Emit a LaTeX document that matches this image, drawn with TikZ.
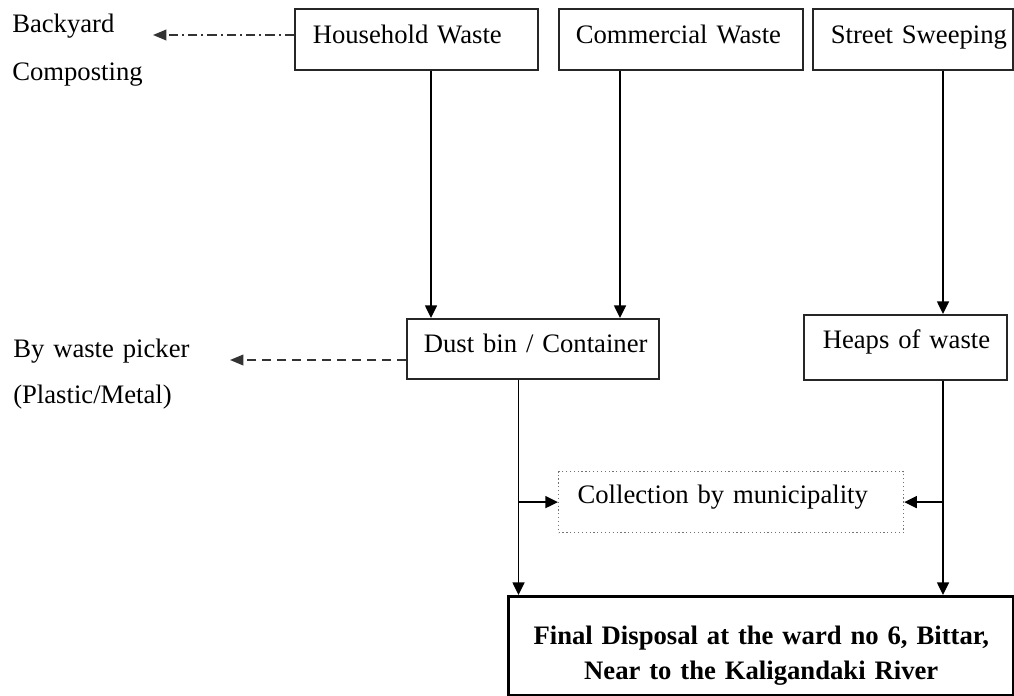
\documentclass[tikz,border=0pt]{standalone}
\usepackage{fontspec}
\setmainfont{Liberation Serif}
\usetikzlibrary{arrows.meta}
\begin{document}
\begin{tikzpicture}[x=0.75pt,y=-0.75pt,
  box/.style={draw=black!85, line width=1.2pt, anchor=north west, inner ysep=0pt, align=left,
    font=\fontsize{20}{24}\selectfont},
  boxdim/.style n args={4}{text width=#1, inner xsep=#2, text height=#3, text depth=#4},
  lbl/.style={inner sep=0pt, anchor=base west, align=left, text width=200pt},
  arr/.style={line width=1.1pt, -{Triangle[length=9.5pt,width=9pt]}},
  dashdotarr/.style={line width=1.1pt, black!80, dash pattern=on 7pt off 3pt on 1.5pt off 3pt,
    -{Triangle[length=10pt,width=8pt]}},
  dasharr/.style={line width=1.1pt, black!80, dash pattern=on 6.75pt off 4.5pt,
    -{Triangle[length=10pt,width=8pt]}}]
\useasboundingbox (0,0) rectangle (1014,696);

% top row
\node[box, boxdim={155.25pt}{13.5pt}{26.25pt}{19.5pt}] (hw) at (294,8) {\mbox{Household Waste}};
\node[box, boxdim={157.5pt}{12.75pt}{26.25pt}{19.5pt}] (cw) at (558,8) {\mbox{Commercial Waste}};
\node[box, boxdim={123pt}{13.5pt}{26.25pt}{19.5pt}] (ss) at (812,8) {\mbox{Street Sweeping}};

% middle row
\node[box, boxdim={163.5pt}{12.75pt}{25.5pt}{19.5pt}] (db) at (406,318) {\mbox{Dust bin / Container}};
\node[box, boxdim={123.75pt}{14.25pt}{25.5pt}{23.25pt}] (hp) at (803,314) {\mbox{Heaps of waste}};

% collection
\node[box, draw=black!55, line width=0.9pt, dotted, boxdim={230.25pt}{14.25pt}{24pt}{21.75pt}] (col) at (558,471) {\mbox{Collection by municipality}};

% final
\node[box, line width=2.6pt, draw=black, align=center, text width=378.75pt, inner xsep=0pt,
  text height=36pt, text depth=38.25pt, font=\fontsize{20}{26.25}\selectfont\bfseries] (fin) at (507,595)
  {Final Disposal at the ward no 6, Bittar,\\Near to the Kaligandaki River};

% side labels
\node[lbl, font=\fontsize{20}{36}\selectfont] (bc) at (12,32) {Backyard\\Composting};
\node[lbl, font=\fontsize{20}{34.5}\selectfont] (wp) at (13,357) {\mbox{By waste picker}\\\mbox{(Plastic/Metal)}};

% column coordinates
\coordinate (hwx) at (431,0);
\coordinate (cwx) at (620,0);
\coordinate (ssx) at (943,0);
\coordinate (dbx) at (518.5,0);
\coordinate (bctip) at (153,35);
\coordinate (wptip) at (230,360);

% connectors
\draw[arr] (hw.south -| hwx) -- (db.north -| hwx);
\draw[arr] (cw.south -| cwx) -- (db.north -| cwx);
\draw[arr] (ss.south -| ssx) -- (hp.north -| ssx);
\draw[arr] (db.south -| dbx) -- (fin.north -| dbx);
\draw[arr] (hp.south -| ssx) -- (fin.north -| ssx);
\draw[arr] (dbx |- col.west) -- (col.west);
\draw[arr] (ssx |- col.east) -- (col.east);
\draw[dashdotarr] (hw.west |- bctip) -- (bctip);
\draw[dasharr] (db.west |- wptip) -- (wptip);
\end{tikzpicture}
\end{document}
